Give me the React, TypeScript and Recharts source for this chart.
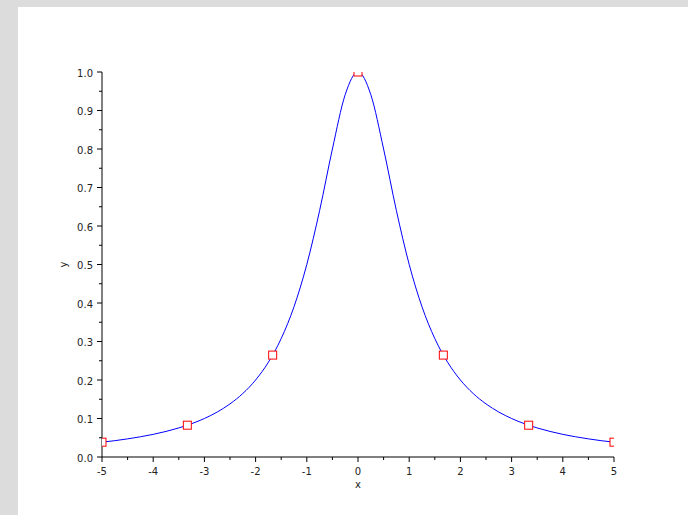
import React from 'react';
import * as R from 'recharts';
import { ComposedChart, Line, XAxis, YAxis, Label } from 'recharts';

// Curve samples (x, y)
const curveX = [-5, -4.75, -4.5, -4.25, -4, -3.75, -3.5, -3.25, -3, -2.75, -2.5, -2.25, -2, -1.75, -1.5, -1.25, -1, -0.75, -0.5, -0.25, 0,
  0.25, 0.5, 0.75, 1, 1.25, 1.5, 1.75, 2, 2.25, 2.5, 2.75, 3, 3.25, 3.5, 3.75, 4, 4.25, 4.5, 4.75, 5];
const curveY = [0.0385, 0.0424, 0.0471, 0.0525, 0.0588, 0.0664, 0.0755, 0.0865, 0.1, 0.1168, 0.1379, 0.1649, 0.2, 0.2462, 0.3077, 0.3902, 0.5, 0.64, 0.8, 0.9412, 1,
  0.9412, 0.8, 0.64, 0.5, 0.3902, 0.3077, 0.2462, 0.2, 0.1649, 0.1379, 0.1168, 0.1, 0.0865, 0.0755, 0.0664, 0.0588, 0.0525, 0.0471, 0.0424, 0.0385];

// Interpolation nodes (red squares)
const nodeX = [-5, -3.3333, -1.6667, 0, 1.6667, 3.3333, 5];
const nodeY = [0.0385, 0.0826, 0.2647, 1, 0.2647, 0.0826, 0.0385];

const xTicks = [-5, -4.5, -4, -3.5, -3, -2.5, -2, -1.5, -1, -0.5, 0, 0.5, 1, 1.5, 2, 2.5, 3, 3.5, 4, 4.5, 5];
const yTicks = [0, 0.05, 0.1, 0.15, 0.2, 0.25, 0.3, 0.35, 0.4, 0.45, 0.5, 0.55, 0.6, 0.65, 0.7, 0.75, 0.8, 0.85, 0.9, 0.95, 1];
const yMajor = [0, 0.1, 0.2, 0.3, 0.4, 0.5, 0.6, 0.7, 0.8, 0.9, 1];

const curve = curveX.map((x, i) => ({ x, y: curveY[i] }));
const nodes = nodeX.map((x, i) => ({ x, n: nodeY[i] }));

const FONT = '"DejaVu Sans", Verdana, sans-serif';
const TXT = '#222';

const XTick = (props: any) => {
  const { x, y, payload } = props;
  const v = payload.value;
  const major = Number.isInteger(v);
  return (
    <g>
      <line x1={x} y1={y} x2={x} y2={y + (major ? 5 : 3)} stroke="#000" strokeWidth={1} />
      {major && (
        <text x={x} y={y + 18} textAnchor="middle" fontSize={10} fontFamily={FONT} fill={TXT}>
          {v}
        </text>
      )}
    </g>
  );
};

const YTick = (props: any) => {
  const { x, y, payload } = props;
  const v = payload.value;
  const major = yMajor.some((m) => Math.abs(m - v) < 1e-9);
  return (
    <g>
      <line x1={x} y1={y} x2={x - (major ? 5 : 3)} y2={y} stroke="#000" strokeWidth={1} />
      {major && (
        <text x={x - 9} y={y + 4.5} textAnchor="end" fontSize={10} fontFamily={FONT} fill={TXT}>
          {v.toFixed(1)}
        </text>
      )}
    </g>
  );
};

const usePlotAreaSafe: () => any = (R as any).usePlotArea || (() => null);

const Square = (props: any) => {
  const { cx, cy, index } = props;
  const area = usePlotAreaSafe();
  const id = `node-clip-${index}`;
  return (
    <g>
      {area && (
        <defs>
          <clipPath id={id}>
            <rect x={area.x} y={area.y} width={area.width} height={area.height} />
          </clipPath>
        </defs>
      )}
      <rect
        x={cx - 4}
        y={cy - 4}
        width={8}
        height={8}
        fill="#fff"
        stroke="#ff0000"
        strokeWidth={1}
        clipPath={area ? `url(#${id})` : undefined}
      />
    </g>
  );
};

export default function App() {
  return (
    <div style={{ position: 'absolute', left: 0, top: 0, width: 688, height: 515, background: '#dcdcdc' }}>
      <div style={{ position: 'absolute', left: 18, top: 7, width: 670, height: 508, background: '#fff' }} />
      <div style={{ position: 'absolute', left: 0, top: 0 }}>
        <ComposedChart width={688} height={515} data={curve} margin={{ top: 72, right: 74, bottom: 28, left: 62 }}>
          <XAxis
            dataKey="x"
            type="number"
            domain={[-5, 5]}
            ticks={xTicks}
            interval={0}
            allowDataOverflow
            tickSize={0}
            tickMargin={0}
            tickLine={false}
            tick={<XTick />}
            height={30}
            axisLine={{ stroke: '#000' }}
          >
            <Label
              content={(p: any) => {
                const vb = p.viewBox;
                return (
                  <text x={vb.x + vb.width / 2} y={vb.y + 31} textAnchor="middle" fontSize={10} fontFamily={FONT} fill={TXT}>
                    x
                  </text>
                );
              }}
            />
          </XAxis>
          <XAxis xAxisId="top" orientation="top" type="number" dataKey="x" domain={[-5, 5]} tick={false} tickLine={false} height={0} axisLine={{ stroke: '#000' }}>
            <Label
              content={(p: any) => {
                const vb = p.viewBox;
                return (
                  <text x={vb.x + vb.width / 2 - 3} y={vb.y - 11} textAnchor="middle" fontSize={10.5} fontFamily={FONT} fill={TXT}>
                    Runge function
                  </text>
                );
              }}
            />
          </XAxis>
          <YAxis
            type="number"
            domain={[0, 1]}
            ticks={yTicks}
            interval={0}
            allowDataOverflow
            tickSize={0}
            tickMargin={0}
            tickLine={false}
            tick={<YTick />}
            width={40}
            axisLine={{ stroke: '#000' }}
          >
            <Label
              content={(p: any) => {
                const vb = p.viewBox;
                const cx = vb.x + 5;
                const cy = vb.y + vb.height / 2;
                return (
                  <text x={cx} y={cy} textAnchor="middle" fontSize={10} fontFamily={FONT} fill={TXT} transform={`rotate(-90 ${cx} ${cy})`}>
                    y
                  </text>
                );
              }}
            />
          </YAxis>
          <YAxis yAxisId="right" orientation="right" type="number" domain={[0, 1]} tick={false} tickLine={false} width={0} axisLine={{ stroke: '#000' }} />
          <Line type="monotone" dataKey="y" stroke="#0000ff" strokeWidth={1} dot={false} activeDot={false} isAnimationActive={false} />
          <Line data={nodes} dataKey="n" stroke="none" dot={<Square />} activeDot={false} isAnimationActive={false} />
        </ComposedChart>
      </div>
    </div>
  );
}
